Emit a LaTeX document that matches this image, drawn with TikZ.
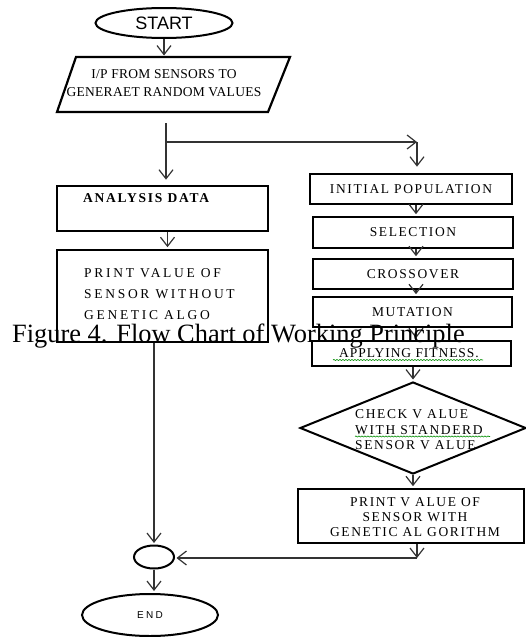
\documentclass[tikz,border=0pt]{standalone}
\usepackage{fontspec}
\setmainfont{Liberation Serif}
\newfontfamily\boxfont[LetterSpace=12]{Liberation Serif}
\newfontfamily\leftfont[LetterSpace=20]{Liberation Serif}
\newfontfamily\parafont[LetterSpace=2]{Liberation Serif}
\newfontfamily\appfont[LetterSpace=7]{Liberation Serif}
\newfontfamily\anafont[LetterSpace=13]{Liberation Serif}
\newfontfamily\startfont{Liberation Sans}
\newfontfamily\endfont[LetterSpace=22]{Liberation Sans}
\usetikzlibrary{arrows.meta,shapes.geometric,decorations.pathmorphing}
\begin{document}
\begin{tikzpicture}[x=1pt,y=-1pt,
  box/.style={draw, line width=2.6pt, rectangle, inner sep=0pt, font=\boxfont\fontsize{13.5}{16}\selectfont},
  conn/.style={line width=1.2pt, draw=black!80, shorten >=1.5pt, -{Straight Barb[length=9pt,width=14pt,line width=1.2pt]}},
  txt/.style={inner sep=0pt},
  oval/.style={ellipse, draw, line width=2pt, inner sep=0pt},
  squig/.style={draw=green!55!black, line width=0.6pt, decorate, decoration={snake, amplitude=0.6pt, segment length=3pt}},
]
\useasboundingbox (0,0) rectangle (526,637);

% start
\node[oval, minimum width=137pt, minimum height=30pt, font=\startfont\fontsize{18}{20}\selectfont] (start) at (164,23) {START};

% parallelogram
\coordinate (p1) at (76,57);
\coordinate (p2) at (290,57);
\coordinate (p3) at (268,112);
\coordinate (p4) at (57,112);
\draw[line width=2.2pt, line join=miter] (p1) -- (p2) -- (p3) -- (p4) -- cycle;
\node[txt, align=center, font=\parafont\fontsize{13.5}{18}\selectfont] (ptxt) at (164,83) {I/P FROM SENSORS TO\\GENERAET RANDOM VALUES};
\draw[conn] (start.south) -- (start.south |- p1);

% left column
\node[box, minimum width=211pt, minimum height=45pt] (ana) at (162.5,208.5) {};
\node[txt, anchor=west, font=\anafont\bfseries\fontsize{13.5}{16}\selectfont] (anat) at (83,198) {ANALYSIS DATA};
\node[box, minimum width=211pt, minimum height=92pt] (pr) at (162.5,296) {};
\node[txt, anchor=west, align=left, font=\leftfont\fontsize{13.5}{21}\selectfont] (prt) at (84,294) {PRINT VALUE OF\\SENSOR WITHOUT\\GENETIC ALGO};

% split
\coordinate (js) at (166,123);
\coordinate (jb) at (166,142);
\coordinate (jr) at (417,142);
\coordinate (ax) at (416,0);

% right column
\node[box, minimum width=202pt, minimum height=30pt] (ip) at (411,189) {INITIAL POPULATION};
\node[box, minimum width=200pt, minimum height=31pt] (sel) at (413,232.5) {SELECTION};
\node[box, minimum width=200pt, minimum height=30pt] (cro) at (413,274) {CROSSOVER};
\node[box, minimum width=199pt, minimum height=30pt] (mut) at (412.5,312) {MUTATION};
\node[box, minimum width=199pt, minimum height=25pt] (app) at (411.5,353.5) {};
\node[txt, font=\appfont\fontsize{13.5}{16}\selectfont] (appt) at (409,353) {APPLYING FITNESS.};
\draw[squig] (333,360) -- (483,360);

\node[diamond, draw, line width=2pt, minimum width=226pt, minimum height=92pt, inner sep=0pt] (dia) at (413,428) {};
\node[txt, anchor=west, align=left, font=\boxfont\fontsize{13.5}{15.5}\selectfont] (diat) at (355,430) {CHECK V ALUE\\WITH STANDERD\\SENSOR V ALUE};
\draw[squig] (355,436.5) -- (490,436.5);

\node[box, minimum width=226pt, minimum height=54pt] (pga) at (411,516) {};
\node[txt, align=center, font=\boxfont\fontsize{13.5}{15}\selectfont] (pgat) at (415,517) {PRINT V ALUE OF\\SENSOR WITH\\GENETIC AL GORITHM};

% merge and end
\node[oval, minimum width=40pt, minimum height=23pt] (circ) at (154,557) {};
\node[oval, minimum width=136pt, minimum height=42pt, font=\endfont\fontsize{10}{12}\selectfont] (endn) at (150,615) {END};
\coordinate (cor) at (417,558);

% connectors
\draw[conn, shorten >=5pt] (js) -- (js |- ana.north);
\draw[conn, shorten >=0pt] (jb) -- (jr);
\draw[conn, shorten >=6pt] (jr) -- (jr |- ip.north);
\draw[conn] ([xshift=5pt]ana.south) -- ([xshift=5pt]pr.north);
\draw[conn] (ip.south -| ax) -- (sel.north -| ax);
\draw[conn] (sel.south -| ax) -- (cro.north -| ax);
\draw[conn] (cro.south -| ax) -- (mut.north -| ax);
\draw[conn] (mut.south -| ax) -- (app.north -| ax);
\draw[conn] (app.south -| dia.north) -- (dia.north);
\draw[conn] (dia.south) -- (dia.south |- pga.north);
\draw[conn, shorten >=0pt] (pga.south -| cor) -- (cor);
\draw[conn] (cor) -- (circ.east |- cor);
\draw[conn] (circ.north |- pr.south) -- (circ.north);
\draw[conn, shorten >=2pt] (circ.south) -- (circ.south |- endn.north);

% caption
\node[txt, anchor=base west, font=\fontsize{26.4}{30}\selectfont] (cap) at (12,342) {Figure 4. Flow Chart of Working Principle};
\end{tikzpicture}
\end{document}
